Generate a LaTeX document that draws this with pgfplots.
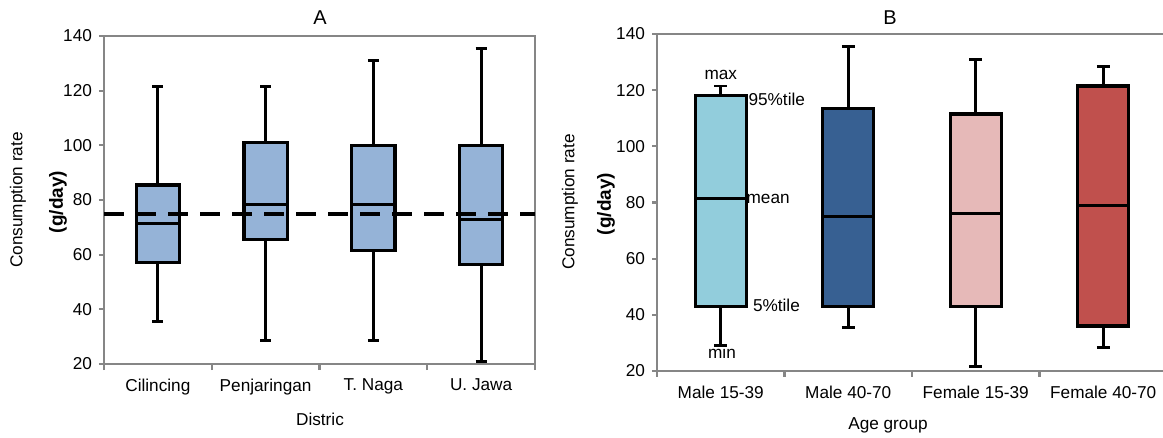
\documentclass[border=0pt]{standalone}
\usepackage{fontspec}
\setmainfont{Liberation Sans}
\usepackage{pgfplots}
\pgfplotsset{compat=1.18}

\definecolor{axgray}{HTML}{868686}
\definecolor{boxA}{HTML}{95B3D7}
\definecolor{mYoung}{HTML}{92CDDC}
\definecolor{mOld}{HTML}{376092}
\definecolor{fYoung}{HTML}{E6B9B8}
\definecolor{fOld}{HTML}{C0504D}

\newcommand{\lbl}{\fontsize{8.6}{10}\selectfont}

\pgfplotsset{
  panel/.style={
    scale only axis, anchor=south west,
    xmin=0.5, xmax=4.5, ymin=20, ymax=140,
    ytick={20,40,...,140}, xtick={1,2,3,4},
    minor xtick={0.5,1.5,2.5,3.5,4.5},
    tick align=outside, xtick pos=bottom, ytick pos=left,
    major tick length=2.5pt, minor tick length=3pt,
    every tick/.append style={axgray, line width=1.15pt},
    major x tick style={draw=none},
    axis line style={axgray, line width=1.15pt},
    tick label style={font=\lbl, black},
    xticklabel style={yshift=-1.5pt},
    /pgf/number format/assume math mode=true,
  },
  wsk/.style={black, line width=1.4pt, forget plot},
  bxo/.style={black, line width=1.6pt, line join=miter, forget plot},
}

% one box: position, min, 5%tile/Q1, mean/median, 95%tile/Q3, max, fill
\newcommand{\bxp}[7]{%
  \pgfmathsetmacro\xl{#1-0.2}\pgfmathsetmacro\xr{#1+0.2}%
  \pgfmathsetmacro\cl{#1-0.05}\pgfmathsetmacro\cr{#1+0.05}%
  \addplot[wsk] coordinates {(#1,#2) (#1,#3)};
  \addplot[wsk] coordinates {(#1,#5) (#1,#6)};
  \addplot[wsk] coordinates {(\cl,#2) (\cr,#2)};
  \addplot[wsk] coordinates {(\cl,#6) (\cr,#6)};
  \addplot[bxo, fill=#7] coordinates {(\xl,#3) (\xr,#3) (\xr,#5) (\xl,#5)} -- cycle;
  \addplot[bxo] coordinates {(\xl,#4) (\xr,#4)};
}

\begin{document}
\begin{tikzpicture}

% ---------- A: by district ----------
\begin{axis}[panel, at={(52pt,-182pt)}, width=215.5pt, height=164pt,
  xticklabels={Cilincing, Penjaringan, T. Naga, U. Jawa}]
  \bxp{1}{35.5}{57}{71.5}{85.5}{121.5}{boxA}
  \bxp{2}{28.5}{65.5}{78.5}{101}{121.5}{boxA}
  \bxp{3}{28.5}{61.5}{78.5}{100}{131}{boxA}
  \bxp{4}{21}{56.5}{73}{100}{135.5}{boxA}
  % reference level
  \addplot[black, line width=2pt, dash pattern=on 10pt off 6pt] coordinates {(0.5,75) (4.5,75)};
\end{axis}

% ---------- B: by age group ----------
\begin{axis}[panel, at={(328.5pt,-185.5pt)}, width=255pt, height=168.5pt,
  xticklabels={Male 15-39, Male 40-70, Female 15-39, Female 40-70}]
  \bxp{1}{29}{43}{81.5}{118}{121.5}{mYoung}
  \bxp{2}{35.5}{43}{75}{113.5}{135.5}{mOld}
  \bxp{3}{21.5}{43}{76}{111.5}{131}{fYoung}
  \bxp{4}{28.5}{36}{79}{121.5}{128.5}{fOld}
  \node[font=\lbl] at (axis cs:1,125.5) {max};
  \node[font=\lbl, anchor=west, inner sep=0pt] at (axis cs:1.215,116.8) {95\%tile};
  \node[font=\lbl, anchor=west, inner sep=0pt] at (axis cs:1.2,81.3) {mean};
  \node[font=\lbl, anchor=west, inner sep=0pt] at (axis cs:1.25,43.5) {5\%tile};
  \node[font=\lbl] at (axis cs:1.01,26.5) {min};
\end{axis}

% ---------- titles and axis labels ----------
\node[font=\fontsize{10}{12}\selectfont] at (160pt,-9pt) {A};
\node[font=\fontsize{10}{12}\selectfont] at (445pt,-9pt) {B};
\node[font=\lbl] at (160pt,-209.5pt) {Distric};
\node[font=\lbl] at (444pt,-212.5pt) {Age group};
\node[font=\lbl, rotate=90] at (9pt,-100pt) {Consumption rate};
\node[font=\fontsize{9.5}{11}\selectfont\bfseries, rotate=90] at (29pt,-101pt) {(g/day)};
\node[font=\lbl, rotate=90] at (285pt,-101pt) {Consumption rate};
\node[font=\fontsize{9.5}{11}\selectfont\bfseries, rotate=90] at (303pt,-102pt) {(g/day)};

\pgfresetboundingbox
\path[use as bounding box] (0pt,0pt) rectangle (581.5pt,-219pt);
\end{tikzpicture}
\end{document}
